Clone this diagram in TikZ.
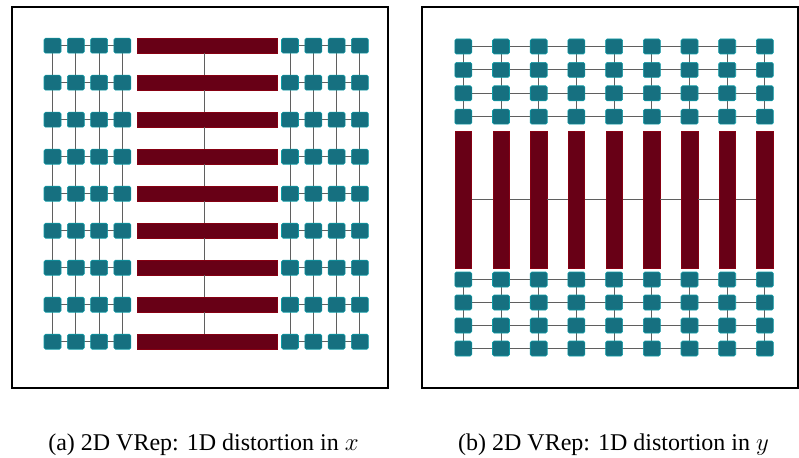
\documentclass[tikz,border=0pt]{standalone}
\usepackage{fontspec}
\setmainfont{Liberation Serif}
\definecolor{sqteal}{RGB}{22,112,128}
\definecolor{barred}{RGB}{104,0,22}
\definecolor{linkgray}{RGB}{95,95,95}
\tikzset{
  sq/.style={fill=sqteal, draw=sqteal!70!cyan, line width=0.6pt, rounded corners=1.5pt, minimum width=17pt, minimum height=15pt, inner sep=0pt},
  hbar/.style={fill=barred, draw=barred!80!red, line width=0.5pt, minimum width=140pt, minimum height=15pt, inner sep=0pt},
  vbar/.style={fill=barred, draw=barred!80!red, line width=0.5pt, minimum width=16.5pt, minimum height=137pt, inner sep=0pt},
  link/.style={draw=linkgray, line width=0.9pt},
  panelframe/.style={draw=black, line width=2pt},
  captext/.style={font=\fontsize{24}{28}\selectfont, inner sep=0pt, anchor=base}
}
\begin{document}
\begin{tikzpicture}[x=1pt,y=-1pt]
\useasboundingbox (0,0) rectangle (799,457);
\fill[white] (0,0) rectangle (799,457);
% frames
\node[panelframe, minimum width=376pt, minimum height=380pt, inner sep=0pt] (frameA) at (199.5,197.5) {};
\node[panelframe, minimum width=376pt, minimum height=380pt, inner sep=0pt] (frameB) at (609.5,197.5) {};
% ---------- panel (a) ----------
\foreach \r in {0,...,8}{
  \pgfmathsetmacro{\yy}{45.7+37*\r}
  \foreach \c/\xx in {1/52.5,2/75.8,3/99.1,4/122.4,5/290,6/313.3,7/336.6,8/359.9}{
    \coordinate (pa-\r-\c) at (\xx,\yy);
  }
  \coordinate (pab-\r) at (207,\yy);
  \coordinate (pac-\r) at (204.5,\yy);
}
% vertical links (a)
\foreach \r [evaluate=\r as \n using int(\r+1)] in {0,...,7}{
  \foreach \c in {1,...,8}{
    \draw[link] (pa-\r-\c) -- (pa-\n-\c);
  }
}
% horizontal links (a)
\foreach \r in {0,...,8}{
  \draw[link] (pa-\r-1) -- (pa-\r-4);
  \draw[link] (pa-\r-5) -- (pa-\r-8);
}
% nodes (a)
\foreach \r in {0,...,8}{
  \foreach \c in {1,...,8}{
    \node[sq] (A-\r-\c) at (pa-\r-\c) {};
  }
  \node[hbar] (AB-\r) at (pab-\r) {};
}
% center line between bars
\foreach \r [evaluate=\r as \n using int(\r+1)] in {0,...,7}{
  \draw[link, line width=0.8pt] (AB-\r.south -| pac-\r) -- (AB-\n.north -| pac-\n);
}
% ---------- panel (b) ----------
\foreach \c in {0,...,8}{
  \pgfmathsetmacro{\xx}{463.3+37.7*\c}
  \foreach \r/\yy in {1/46.5,2/69.9,3/93.3,4/116.7,5/279.5,6/302.5,7/325.5,8/348.5}{
    \coordinate (pb-\r-\c) at (\xx,\yy);
  }
  \coordinate (pbb-\c) at (\xx,199.5);
}
% horizontal links (b)
\foreach \c [evaluate=\c as \n using int(\c+1)] in {0,...,7}{
  \foreach \r in {1,...,8}{
    \draw[link] (pb-\r-\c) -- (pb-\r-\n);
  }
}
% vertical links (b)
\foreach \c in {0,...,8}{
  \draw[link] (pb-1-\c) -- (pb-4-\c);
  \draw[link] (pb-5-\c) -- (pb-8-\c);
}
% nodes (b)
\foreach \c in {0,...,8}{
  \foreach \r in {1,...,8}{
    \node[sq] (B-\r-\c) at (pb-\r-\c) {};
  }
  \node[vbar] (BB-\c) at (pbb-\c) {};
}
\foreach \c [evaluate=\c as \n using int(\c+1)] in {0,...,7}{
  \draw[link, line width=0.8pt] (BB-\c.east) -- (BB-\n.west);
}
% captions
\node[captext] (capA) at (203.5,450) {(a) 2D VRep: 1D distortion in $x$};
\node[captext] (capB) at (613.5,450) {(b) 2D VRep: 1D distortion in $y$};
\end{tikzpicture}
\end{document}
